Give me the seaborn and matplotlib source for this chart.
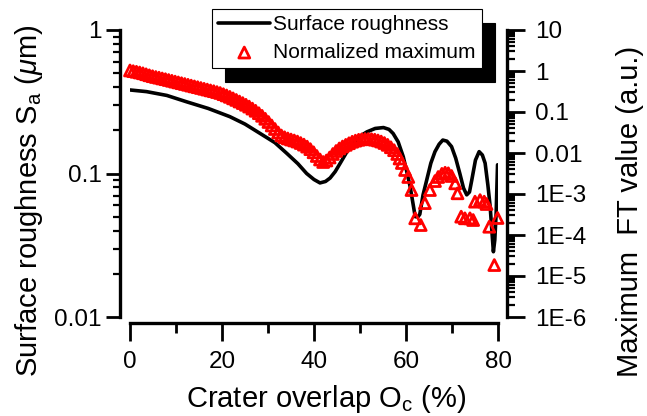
"""
Surface roughness and normalized maximum FT value vs crater overlap.
Origin-style chart with offset spines and two log y-axes.
"""

import matplotlib
matplotlib.use("Agg")
import matplotlib.pyplot as plt
import seaborn as sns
from matplotlib.ticker import FixedLocator, FixedFormatter, LogLocator, NullFormatter

# Surface roughness Sa (um), left axis
sa_overlap = [0.0, 3.6, 8.0, 12.3, 17.0, 21.7, 25.0, 28.3, 31.5, 34.1, 36.5, 38.4,
              40.0, 41.3, 42.5, 43.5, 44.6, 45.7, 47.0, 48.5, 50.0, 51.5, 53.3, 55.1,
              56.3, 57.2, 58.3, 59.4, 60.2, 60.9, 61.5, 62.0, 62.6, 63.0, 63.7, 64.5,
              65.4, 66.3, 67.2, 68.0, 68.9, 69.9, 70.8, 71.7, 72.5, 73.2, 73.8, 74.3,
              75.1, 75.9, 76.6, 77.2, 77.8, 78.3, 78.7, 79.0, 79.3, 79.6, 79.9]
sa_value = [0.382, 0.372, 0.350, 0.316, 0.284, 0.249, 0.221, 0.190, 0.164, 0.138, 0.117, 0.100,
            0.0908, 0.086, 0.088, 0.093, 0.103, 0.118, 0.139, 0.162, 0.182, 0.195, 0.206, 0.209,
            0.203, 0.190, 0.166, 0.131, 0.102, 0.081, 0.0623, 0.050, 0.0499, 0.052, 0.0708, 0.090,
            0.118, 0.142, 0.160, 0.171, 0.168, 0.154, 0.128, 0.100, 0.0792, 0.071, 0.0743, 0.090,
            0.124, 0.142, 0.1345, 0.118, 0.083, 0.0587, 0.0385, 0.0285, 0.0344, 0.053, 0.115]

# Normalized maximum FT value (a.u.), right axis
ft_overlap = [0.0, 0.7, 1.4, 2.1, 2.8, 3.5, 4.2, 4.9, 5.6, 6.3, 7.0, 7.7, 8.4, 9.1, 9.8,
              10.5, 11.2, 11.9, 12.6, 13.3, 14.0, 14.7, 15.4, 16.1, 16.8, 17.5, 18.2, 18.9,
              19.6, 20.3, 21.0, 21.7, 22.4, 23.1, 23.8, 24.5, 25.2, 25.9, 26.6, 27.3, 28.0,
              28.7, 29.4, 30.1, 30.8, 31.5, 32.2, 32.9, 33.6, 34.3, 35.0, 35.7, 36.4, 37.1,
              37.8, 38.5, 39.2, 39.9, 40.6, 41.3, 42.0, 42.7, 43.4, 44.1, 44.8, 45.5, 46.2,
              46.9, 47.6, 48.3, 49.0, 49.7, 50.4, 51.1, 51.8, 52.5, 53.2, 53.9, 54.6, 55.3,
              56.0, 56.7, 57.4, 58.1, 58.6,
              59.1, 59.8, 60.5, 61.2, 62.0, 63.2, 64.1, 65.2, 66.3, 67.0, 67.8, 68.5, 69.2,
              69.9, 70.7, 71.2, 72.0, 72.8, 73.9, 74.6, 75.0, 76.1, 77.0, 77.5, 78.1, 79.2, 79.9]
ft_value = [1.03, 0.99, 0.956, 0.919, 0.879, 0.831, 0.785, 0.747, 0.714, 0.687, 0.657, 0.631,
            0.603, 0.577, 0.551, 0.527, 0.504, 0.482, 0.461, 0.440, 0.421, 0.403, 0.385, 0.368,
            0.352, 0.336, 0.322, 0.306, 0.291, 0.272, 0.253, 0.234, 0.215, 0.197, 0.180, 0.165,
            0.150, 0.1355, 0.121, 0.107, 0.0935, 0.0807, 0.0682, 0.057, 0.0469, 0.0385, 0.0316,
            0.0267, 0.0242, 0.0226, 0.0213, 0.0202, 0.019, 0.0175, 0.016, 0.0143, 0.0124,
            0.0104, 0.00845, 0.00694, 0.00603, 0.00656, 0.00776, 0.00946, 0.0112, 0.0129,
            0.0144, 0.0158, 0.0173, 0.0188, 0.020, 0.021, 0.0216, 0.0219, 0.0219, 0.0217,
            0.0211, 0.0202, 0.019, 0.0175, 0.0158, 0.0138, 0.0117, 0.00946, 0.00734,
            0.0057, 0.00385, 0.0026, 0.00125, 0.000255, 0.000175, 0.0006, 0.00125, 0.00207,
            0.0026, 0.0031, 0.0033, 0.0032, 0.00275, 0.00182, 0.00104, 0.00028, 0.000255,
            0.000255, 0.000232, 0.00065, 0.00071, 0.00065, 0.00057, 0.000159, 1.85e-5, 0.00026]

x_major = [0, 20, 40, 60, 80]
x_minor = [10, 30, 50, 70]
left_ticks = [0.01, 0.1, 1]
left_labels = ["0.01", "0.1", "1"]
right_ticks = [1e-6, 1e-5, 1e-4, 1e-3, 0.01, 0.1, 1, 10]
right_labels = ["1E-6", "1E-5", "1E-4", "1E-3", "0.01", "0.1", "1", "10"]

sns.set_theme(style="ticks")
plt.rcParams['font.family'] = ['Liberation Sans', 'DejaVu Sans']
plt.rcParams['mathtext.fontset'] = 'custom'
plt.rcParams['mathtext.rm'] = 'Liberation Sans'
plt.rcParams['mathtext.it'] = 'Liberation Sans:italic'
for key in ['text.color', 'axes.labelcolor', 'axes.edgecolor', 'xtick.color', 'ytick.color']:
    plt.rcParams[key] = 'black'

fig = plt.figure(figsize=(6.47, 4.16), dpi=100)
ax = fig.add_axes([130 / 647, 1 - 317 / 416, 368 / 647, 287 / 416])
ax.set_yscale('log')
ax2 = ax.twinx()
ax2.set_yscale('log')

# black line: surface roughness
sns.lineplot(x=sa_overlap, y=sa_value, ax=ax, color='black', linewidth=2.6,
             label='Surface roughness', legend=False, estimator=None)
# red hollow triangles: FT maximum
sns.scatterplot(x=ft_overlap, y=ft_value, ax=ax2, marker='^', s=62,
                facecolor='none', edgecolor='red', linewidth=2.0,
                label='Normalized maximum', legend=False, clip_on=False, zorder=3)

ax.set_xlim(0, 80)
ax.set_ylim(0.01, 1)
ax2.set_ylim(1e-6, 10)

# spines, Origin style (offset, no top)
for a in (ax, ax2):
    a.spines['top'].set_visible(False)
    for s in a.spines.values():
        s.set_linewidth(2.4)
        s.set_color('black')
ax.spines['right'].set_visible(False)
ax2.spines['left'].set_visible(False)
ax2.spines['bottom'].set_visible(False)
ax.spines['left'].set_position(('outward', 7.2))
ax.spines['bottom'].set_position(('outward', 4.3))
ax2.spines['right'].set_position(('outward', 6.5))

ax.xaxis.set_major_locator(FixedLocator(x_major))
ax.xaxis.set_minor_locator(FixedLocator(x_minor))
ax.yaxis.set_major_locator(FixedLocator(left_ticks))
ax.yaxis.set_major_formatter(FixedFormatter(left_labels))
ax.yaxis.set_minor_locator(LogLocator(base=10, subs=range(2, 10)))
ax.yaxis.set_minor_formatter(NullFormatter())
ax2.yaxis.set_major_locator(FixedLocator(right_ticks))
ax2.yaxis.set_major_formatter(FixedFormatter(right_labels))
ax2.yaxis.set_minor_locator(LogLocator(base=10, subs=range(2, 10), numticks=20))
ax2.yaxis.set_minor_formatter(NullFormatter())

ax.tick_params(axis='x', which='major', direction='out', length=13, width=2, labelsize=17.5, pad=7)
ax.tick_params(axis='x', which='minor', direction='out', length=7.5, width=2)
ax.tick_params(axis='y', which='major', direction='out', length=10, width=2, labelsize=17.5, pad=3)
ax.tick_params(axis='y', which='minor', direction='out', length=5, width=1.6)
ax2.tick_params(axis='y', which='major', direction='out', length=13, width=2, labelsize=17.5, pad=7)
ax2.tick_params(axis='y', which='minor', direction='out', length=6, width=1.6)
ax.set_xlabel('')
ax.set_ylabel('')
ax2.set_ylabel('')

fig.text(326 / 647, 1 - 407 / 416, r'Crater overlap O$_\mathregular{c}$ (%)',
         ha='center', va='baseline', fontsize=21)
fig.text(29 / 647, 1 - 201 / 416, r'Surface roughness S$_\mathregular{a}$ ($\mathit{\mu}$m)',
         ha='center', va='center', rotation=90, fontsize=21)
fig.text(630 / 647, 1 - 211 / 416, 'Maximum  FT value (a.u.)',
         ha='center', va='center', rotation=90, fontsize=21)

handles = ax.get_lines()[:1] + ax2.collections[:1]
labels = ['Surface roughness', 'Normalized maximum']
leg = ax2.legend(handles, labels, loc='upper left',
                 bbox_to_anchor=(212 / 647, 1 - 9 / 416), bbox_transform=fig.transFigure,
                 fontsize=15, frameon=True, fancybox=False, framealpha=1,
                 edgecolor='black', borderpad=0.3, labelspacing=0.42,
                 handlelength=2.5, handletextpad=0.15, borderaxespad=0,
                 shadow={'color': 'black', 'alpha': 1, 'ox': 9.4, 'oy': -10})
leg.get_frame().set_linewidth(0.8)

fig.savefig('out.png', dpi=100)
